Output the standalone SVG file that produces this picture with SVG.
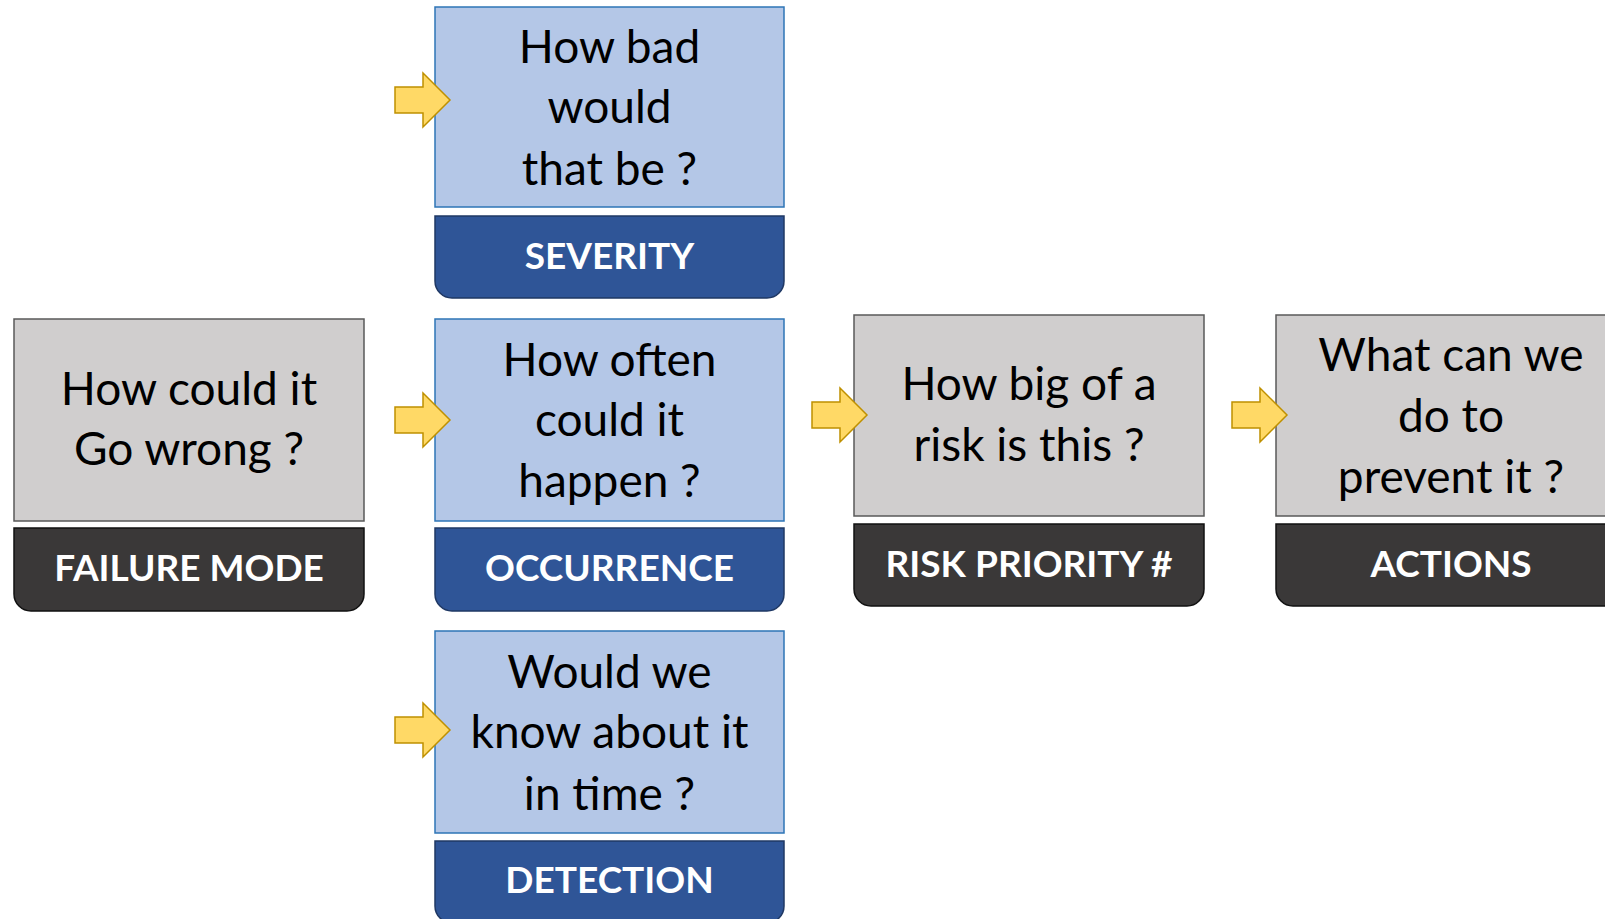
<svg xmlns="http://www.w3.org/2000/svg" width="1605" height="919" viewBox="0 0 1605 919">
  <style>
    .q { font-family: Lato, "Liberation Sans", sans-serif; font-size: 46px; fill: #000; text-anchor: middle; }
    .lbl { font-family: Lato, "Liberation Sans", sans-serif; font-size: 37px; font-weight: bold; fill: #fff; text-anchor: middle; }
    .boxBlue { fill: #B4C7E7; stroke: #2E75B6; stroke-width: 1.5; }
    .boxGray { fill: #D0CECE; stroke: #595959; stroke-width: 1.5; }
    .barBlue { fill: #2F5597; stroke: #1F3864; stroke-width: 1.5; }
    .barDark { fill: #3A3838; stroke: #111; stroke-width: 1.5; }
    .arrow { fill: #FFD966; stroke: #BF9000; stroke-width: 1.5; stroke-linejoin: miter; }
  </style>
  <defs>
    <!-- block arrow, origin at the left end of the shaft, vertically centred -->
    <path id="blockArrow" class="arrow" d="M0,-13 H28 V-27 L55,0 L28,27 V13 H0 Z"/>
  </defs>
  <rect width="1605" height="919" fill="#fff"/>

  <g id="failure-mode">
    <rect class="boxGray" x="14" y="319" width="350" height="202"/>
    <text class="q" x="189" y="405">How could it</text>
    <text class="q" x="189" y="465">Go wrong ?</text>
    <path class="barDark" d="M14,528 H364 V594 A17,17 0 0 1 347,611 H31 A17,17 0 0 1 14,594 Z"/>
    <text class="lbl" x="189" y="581">FAILURE MODE</text>
  </g>

  <g id="severity">
    <rect class="boxBlue" x="435" y="7" width="349" height="200"/>
    <text class="q" x="609.5" y="63">How bad</text>
    <text class="q" x="609.5" y="123">would</text>
    <text class="q" x="609.5" y="185">that be ?</text>
    <path class="barBlue" d="M435,216 H784 V281 A17,17 0 0 1 767,298 H452 A17,17 0 0 1 435,281 Z"/>
    <text class="lbl" x="609.5" y="269">SEVERITY</text>
  </g>

  <g id="occurrence">
    <rect class="boxBlue" x="435" y="319" width="349" height="202"/>
    <text class="q" x="609.5" y="376">How often</text>
    <text class="q" x="609.5" y="436">could it</text>
    <text class="q" x="609.5" y="497">happen ?</text>
    <path class="barBlue" d="M435,528 H784 V594 A17,17 0 0 1 767,611 H452 A17,17 0 0 1 435,594 Z"/>
    <text class="lbl" x="609.5" y="581">OCCURRENCE</text>
  </g>

  <g id="detection">
    <rect class="boxBlue" x="435" y="631" width="349" height="202"/>
    <text class="q" x="609.5" y="688">Would we</text>
    <text class="q" x="609.5" y="748">know about it</text>
    <text class="q" x="609.5" y="810">in time ?</text>
    <path class="barBlue" d="M435,841 H784 V906 A17,17 0 0 1 767,923 H452 A17,17 0 0 1 435,906 Z"/>
    <text class="lbl" x="609.5" y="893">DETECTION</text>
  </g>

  <g id="risk-priority">
    <rect class="boxGray" x="854" y="315" width="350" height="201"/>
    <text class="q" x="1029" y="400">How big of a</text>
    <text class="q" x="1029" y="461">risk is this ?</text>
    <path class="barDark" d="M854,524 H1204 V589 A17,17 0 0 1 1187,606 H871 A17,17 0 0 1 854,589 Z"/>
    <text class="lbl" x="1029" y="577">RISK PRIORITY #</text>
  </g>

  <g id="actions">
    <rect class="boxGray" x="1276" y="315" width="350" height="201"/>
    <text class="q" x="1451" y="371">What can we</text>
    <text class="q" x="1451" y="432">do to</text>
    <text class="q" x="1451" y="493">prevent it ?</text>
    <path class="barDark" d="M1276,524 H1626 V589 A17,17 0 0 1 1609,606 H1293 A17,17 0 0 1 1276,589 Z"/>
    <text class="lbl" x="1451" y="577">ACTIONS</text>
  </g>

  <!-- block arrows sit on top of the box edges -->
  <g id="connectors">
    <use href="#blockArrow" x="395" y="100"/>
    <use href="#blockArrow" x="395" y="420"/>
    <use href="#blockArrow" x="395" y="730"/>
    <use href="#blockArrow" x="812" y="415"/>
    <use href="#blockArrow" x="1232" y="415"/>
  </g>
</svg>
